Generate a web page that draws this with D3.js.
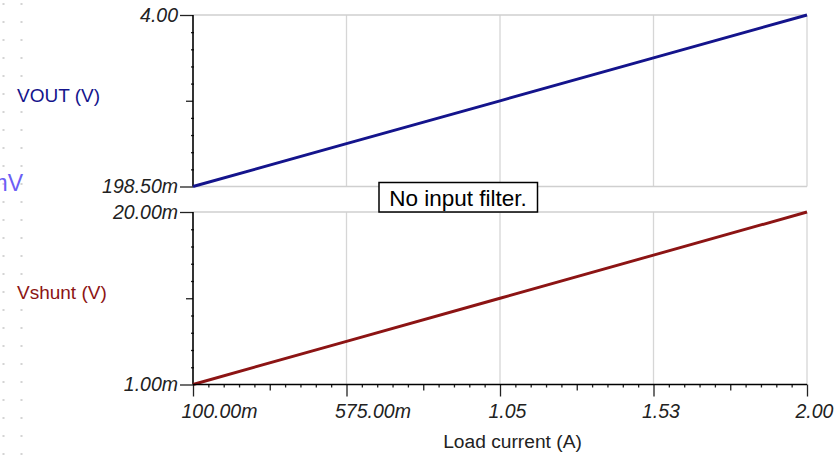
<!DOCTYPE html>
<html><head><meta charset="utf-8">
<script src="https://cdn.jsdelivr.net/npm/d3@7"></script>
<style>
html,body{margin:0;padding:0;background:#fff;}
svg{display:block;font-family:"Liberation Sans",Arial,sans-serif;}
</style></head>
<body><svg id="c" width="836" height="455"></svg>
<script>
// ---- data ----
const loadCurrent = [0.1, 0.575, 1.05, 1.525, 2.0];
const vout = [0.1985, 1.1485, 2.0985, 3.0485, 4.0];
const vshunt = [0.001, 0.00575, 0.0105, 0.01525, 0.020];
const xTickValues = [0.1, 0.575, 1.05, 1.525, 2.0];
const xTickLabels = ["100.00m", "575.00m", "1.05", "1.53", "2.00"];
const voutDomain = [0.1985, 4.0];
const voutTickLabels = ["198.50m", "4.00"];
const vshuntDomain = [0.001, 0.020];
const vshuntTickLabels = ["1.00m", "20.00m"];
const seriesNames = ["VOUT (V)", "Vshunt (V)"];
const annotation = "No input filter.";

const svg = d3.select("#c");
const L = 193, R = 807;
const x = d3.scaleLinear().domain([0.1, 2.0]).range([L, R]);
const yTop = d3.scaleLinear().domain(voutDomain).range([186.5, 15]);
const yBot = d3.scaleLinear().domain(vshuntDomain).range([384.5, 212]);

// background dot grid on left
const dots = svg.append("g");
for (let yy = 4; yy < 455; yy += 18) {
  [3.5, 21.5].forEach(xx => dots.append("rect").attr("x", xx - 1).attr("y", yy - 1)
    .attr("width", 2).attr("height", 2).attr("fill", "#d4d4d4"));
}
// partial unit text at the left edge (as in the reference)
svg.append("text").attr("x", -11.5).attr("y", 191).attr("font-size", 23)
  .attr("fill", "#5b4df5").attr("opacity", 0.9).text("mV");

function panel(y, dom, labels, data, color, name, showX) {
  const g = svg.append("g");
  const [y0, y1] = y.range();
  g.selectAll(".vg").data(xTickValues.slice(1)).join("line")
    .attr("x1", d => x(d)).attr("x2", d => x(d)).attr("y1", y1).attr("y2", y0)
    .attr("stroke", "#d6d6d6").attr("stroke-width", 1.3);
  g.append("line").attr("x1", L).attr("x2", R).attr("y1", y1).attr("y2", y1)
    .attr("stroke", "#cfcfcf").attr("stroke-width", 1.6);
  if (!showX) g.append("line").attr("x1", L).attr("x2", R).attr("y1", y0).attr("y2", y0)
    .attr("stroke", "#cfcfcf").attr("stroke-width", 1.6);
  const step = (dom[1] - dom[0]) / 10;
  const minor = d3.range(1, 10).filter(i => i !== 5).map(i => dom[0] + i * step);
  const mid = [dom[0] + 5 * step];
  const ax1 = g.append("g").attr("transform", `translate(${L + 1},0)`)
    .call(d3.axisLeft(y).tickValues(minor).tickSize(3).tickFormat(""));
  ax1.select(".domain").remove();
  const ax2 = g.append("g").attr("transform", `translate(${L},0)`)
    .call(d3.axisLeft(y).tickValues(mid).tickSize(7).tickFormat(""));
  ax2.select(".domain").remove();
  const ax3 = g.append("g").attr("transform", `translate(${L},0)`)
    .call(d3.axisLeft(y).tickValues(dom).tickSize(13).tickPadding(2)
      .tickFormat((d, i) => labels[i]));
  ax3.select(".domain").remove();
  ax3.selectAll("text").attr("font-size", 19.5).attr("font-style", "italic")
    .attr("fill", "#222").attr("font-family", "Liberation Sans, Arial, sans-serif");
  g.selectAll(".tick line").attr("stroke", "#222").attr("stroke-width", 1.3);
  g.append("line").attr("x1", L).attr("x2", L).attr("y1", y1).attr("y2", y0)
    .attr("stroke", "#000").attr("stroke-width", 1.6);
  const line = d3.line().x((d, i) => x(loadCurrent[i])).y(d => y(d));
  g.append("path").datum(data).attr("d", line).attr("fill", "none")
    .attr("stroke", color).attr("stroke-width", 2.9);
  g.append("text").attr("x", 17).attr("y", (y0 + y1) / 2 + 1).attr("font-size", 19)
    .attr("fill", color).text(name);
}

panel(yTop, voutDomain, voutTickLabels, vout, "#14148c", seriesNames[0], false);
panel(yBot, vshuntDomain, vshuntTickLabels, vshunt, "#8c1414", seriesNames[1], true);

// x axis
const xb = 384.5;
const xg = svg.append("g");
const xStep = (xTickValues[1] - xTickValues[0]) / 10;
const xMinor = [], xMid = [];
for (let k = 0; k < 4; k++) for (let i = 1; i < 10; i++) {
  const v = xTickValues[k] + i * xStep;
  (i === 5 ? xMid : xMinor).push(v);
}
const xa1 = xg.append("g").attr("transform", `translate(0,${xb})`)
  .call(d3.axisBottom(x).tickValues(xMinor).tickSize(3).tickFormat(""));
xa1.select(".domain").remove();
const xa2 = xg.append("g").attr("transform", `translate(0,${xb})`)
  .call(d3.axisBottom(x).tickValues(xMid).tickSize(6).tickFormat(""));
xa2.select(".domain").remove();
const xa3 = xg.append("g").attr("transform", `translate(0,${xb})`)
  .call(d3.axisBottom(x).tickValues(xTickValues).tickSize(12).tickPadding(8)
    .tickFormat((d, i) => xTickLabels[i]));
xa3.select(".domain").remove();
xa3.selectAll("text").attr("font-size", 19.5).attr("font-style", "italic").attr("fill", "#222")
  .attr("text-anchor", "start").attr("dx", -12)
  .attr("font-family", "Liberation Sans, Arial, sans-serif");
xg.selectAll(".tick line").attr("stroke", "#222").attr("stroke-width", 1.3);
xg.append("line").attr("x1", L).attr("x2", R).attr("y1", xb).attr("y2", xb)
  .attr("stroke", "#000").attr("stroke-width", 1.6);
svg.append("text").attr("x", 512.5).attr("y", 448).attr("text-anchor", "middle")
  .attr("font-size", 19.2).attr("fill", "#222").text("Load current (A)");

// annotation box
const ag = svg.append("g");
ag.append("rect").attr("x", 379).attr("y", 182.5).attr("width", 158.5).attr("height", 29.5)
  .attr("fill", "#fff").attr("stroke", "#000").attr("stroke-width", 1.5);
ag.append("text").attr("x", 458).attr("y", 205.5).attr("text-anchor", "middle")
  .attr("font-size", 22.5).attr("fill", "#000").text(annotation);
</script></body></html>
